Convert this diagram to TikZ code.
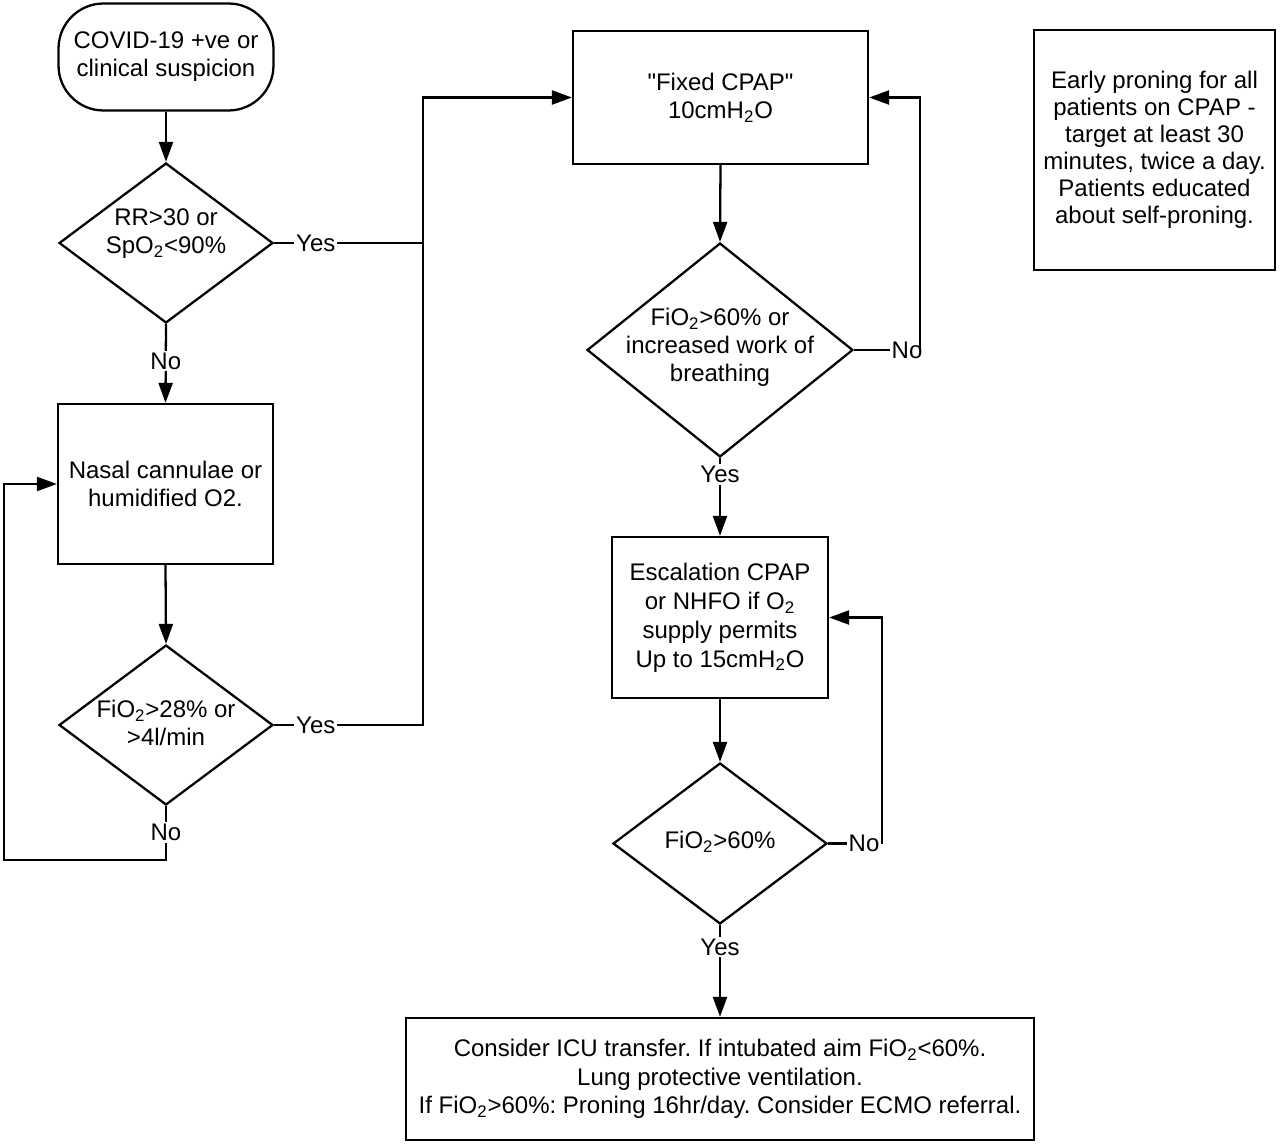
\documentclass[tikz,border=0pt]{standalone}
\usepackage{fontspec}
\setmainfont{Liberation Sans}[Ligatures=TeXOff]
\usetikzlibrary{shapes.geometric,arrows.meta}
\frenchspacing
\begin{document}
\begin{tikzpicture}[x=0.02cm,y=-0.02cm,
 every node/.style={font=\fontsize{13.66}{15.9}\selectfont},
 box/.style={draw,line width=1.3pt,align=center,inner sep=0pt},
 term/.style={box,rounded corners=0.9cm},
 dia/.style={draw,diamond,line width=1.3pt,inner sep=0pt},
 txt/.style={align=center,inner sep=0pt},
 lbl/.style={fill=white,inner sep=1pt},
 conn/.style={line width=1.3pt},
 arr/.style={conn,-{Triangle[length=0.4cm,width=0.28cm]}}]
\useasboundingbox[fill=white] (0,0) rectangle (1280,1146);

% nodes
\node[term,minimum width=4.3cm,minimum height=2.14cm] (start) at (166,57) {COVID-19 +ve or\\clinical suspicion};
\node[dia,minimum width=4.28cm,minimum height=3.2cm] (d1) at (166,243) {};
\node[txt] (d1t) at (166,234) {RR>30 or\\SpO\textsubscript{2}<90\%};
\node[box,minimum width=4.3cm,minimum height=3.2cm] (nasal) at (165.5,484) {Nasal cannulae or\\humidified O2.};
\node[dia,minimum width=4.28cm,minimum height=3.2cm] (d2) at (166,725) {};
\node[txt] (d2t) at (166,723) {FiO\textsubscript{2}>28\% or\\>4l/min};
\node[box,minimum width=5.9cm,minimum height=2.66cm] (fixed) at (720.5,97.5) {"Fixed CPAP"\\10cmH\textsubscript{2}O};
\node[dia,minimum width=5.32cm,minimum height=4.28cm] (d3) at (720,350) {};
\node[txt] (d3t) at (720,347) {FiO\textsubscript{2}>60\% or\\increased work of\\breathing};
\node[box,minimum width=4.32cm,minimum height=3.22cm,font=\fontsize{13.66}{16.5}\selectfont] (esc) at (720,617.5) {Escalation CPAP\\or NHFO if O\textsubscript{2}\\supply permits\\Up to 15cmH\textsubscript{2}O};
\node[dia,minimum width=4.28cm,minimum height=3.22cm] (d4) at (720,843.5) {};
\node[txt] (d4t) at (720,842) {FiO\textsubscript{2}>60\%};
\node[box,minimum width=12.56cm,minimum height=2.44cm,font=\fontsize{13.66}{16.1}\selectfont] (final) at (720,1079) {Consider ICU transfer. If intubated aim FiO\textsubscript{2}<60\%.\\Lung protective ventilation.\\If FiO\textsubscript{2}>60\%: Proning 16hr/day. Consider ECMO referral.};
\node[box,minimum width=4.82cm,minimum height=4.8cm,font=\fontsize{13.66}{15.4}\selectfont] (note) at (1154.5,150) {Early proning for all\\patients on CPAP -\\target at least 30\\minutes, twice a day.\\Patients educated\\about self-proning.};

% connectors
\coordinate (j1) at (423,243);
\coordinate (j2) at (423,725);
\draw[arr] (start.south) -- (d1.north);
\draw[conn] (d1.east) -- node[lbl,pos=0.28]{Yes} (j1);
\draw[arr] (d2.east) -- node[lbl,pos=0.28]{Yes} (j2) |- (fixed.west);
\draw[arr] (d1.south) -- node[lbl,pos=0.47]{No} (nasal.north);
\draw[arr] (nasal.south) -- (d2.north);
\coordinate (l1) at (166,860);
\coordinate (l2) at (4,860);
\draw[arr] (d2.south) -- node[lbl,pos=0.49]{No} (l1) -- (l2) |- (nasal.west);

\draw[arr] (fixed.south) -- (d3.north);
\node[inner sep=1pt] (no3) at (907,350) {No};
\coordinate (c3) at (920,350);
\draw[conn] (d3.east) -- (no3.west);
\draw[arr] (c3) |- (fixed.east);

\draw[arr] (d3.south) -- node[lbl,pos=0.21]{Yes} (esc.north);
\draw[arr] (esc.south) -- (d4.north);
\node[inner sep=1pt] (no4) at (864,843.5) {No};
\coordinate (c4) at (882,843.5);
\draw[conn] (d4.east) -- (no4.west);
\draw[arr] (c4) |- (esc.east);
\draw[arr] (d4.south) -- node[lbl,pos=0.24]{Yes} (final.north);
\end{tikzpicture}
\end{document}
